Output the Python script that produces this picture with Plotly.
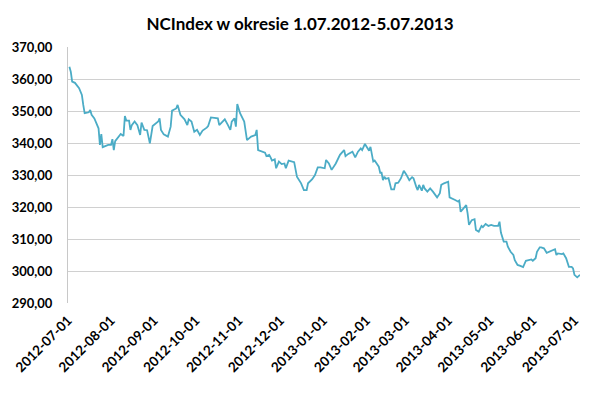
import plotly.graph_objects as go

dates = [
    "2012-07-02", "2012-07-03", "2012-07-04", "2012-07-06", "2012-07-09", "2012-07-11", "2012-07-12", "2012-07-13",
    "2012-07-16", "2012-07-17", "2012-07-18", "2012-07-20", "2012-07-23", "2012-07-24", "2012-07-25", "2012-07-26",
    "2012-07-30", "2012-08-01", "2012-08-02", "2012-08-03", "2012-08-04", "2012-08-07", "2012-08-08", "2012-08-10",
    "2012-08-11", "2012-08-12", "2012-08-14", "2012-08-15", "2012-08-16", "2012-08-18", "2012-08-20", "2012-08-22",
    "2012-08-23", "2012-08-25", "2012-08-27", "2012-08-29", "2012-08-30", "2012-08-31", "2012-09-04", "2012-09-05",
    "2012-09-06", "2012-09-08", "2012-09-11", "2012-09-13", "2012-09-14", "2012-09-17", "2012-09-18", "2012-09-20",
    "2012-09-23", "2012-09-25", "2012-09-26", "2012-09-28", "2012-09-30", "2012-10-02", "2012-10-04", "2012-10-06",
    "2012-10-09", "2012-10-10", "2012-10-12", "2012-10-15", "2012-10-17", "2012-10-18", "2012-10-21", "2012-10-22",
    "2012-10-24", "2012-10-26", "2012-10-27", "2012-10-29", "2012-10-30", "2012-10-31", "2012-11-02", "2012-11-03",
    "2012-11-05", "2012-11-07", "2012-11-10", "2012-11-13", "2012-11-14", "2012-11-15", "2012-11-18", "2012-11-20",
    "2012-11-21", "2012-11-23", "2012-11-24", "2012-11-25", "2012-11-27", "2012-11-28", "2012-11-30", "2012-12-02",
    "2012-12-04", "2012-12-05", "2012-12-07", "2012-12-10", "2012-12-11", "2012-12-13", "2012-12-14", "2012-12-16",
    "2012-12-18", "2012-12-20", "2012-12-21", "2012-12-24", "2012-12-26", "2012-12-28", "2012-12-30", "2013-01-02",
    "2013-01-03", "2013-01-05", "2013-01-07", "2013-01-10", "2013-01-13", "2013-01-14", "2013-01-16", "2013-01-17",
    "2013-01-19", "2013-01-22", "2013-01-24", "2013-01-26", "2013-01-28", "2013-01-29", "2013-01-31", "2013-02-02",
    "2013-02-03", "2013-02-04", "2013-02-06", "2013-02-07", "2013-02-10", "2013-02-11", "2013-02-12", "2013-02-13",
    "2013-02-14", "2013-02-15", "2013-02-17", "2013-02-19", "2013-02-21", "2013-02-22", "2013-02-24", "2013-02-26",
    "2013-02-28", "2013-03-02", "2013-03-04", "2013-03-06", "2013-03-07", "2013-03-09", "2013-03-10", "2013-03-11",
    "2013-03-13", "2013-03-14", "2013-03-15", "2013-03-17", "2013-03-19", "2013-03-21", "2013-03-24", "2013-03-26",
    "2013-03-27", "2013-03-29", "2013-04-01", "2013-04-02", "2013-04-04", "2013-04-06", "2013-04-08", "2013-04-09",
    "2013-04-10", "2013-04-12", "2013-04-14", "2013-04-15", "2013-04-16", "2013-04-18", "2013-04-20", "2013-04-21",
    "2013-04-23", "2013-04-25", "2013-04-26", "2013-04-28", "2013-04-30", "2013-05-02", "2013-05-04", "2013-05-07",
    "2013-05-08", "2013-05-09", "2013-05-11", "2013-05-13", "2013-05-14", "2013-05-16", "2013-05-18", "2013-05-19",
    "2013-05-21", "2013-05-23", "2013-05-25", "2013-05-27", "2013-05-29", "2013-05-31", "2013-06-01", "2013-06-03",
    "2013-06-04", "2013-06-06", "2013-06-07", "2013-06-09", "2013-06-11", "2013-06-13", "2013-06-16", "2013-06-17",
    "2013-06-18", "2013-06-19", "2013-06-22", "2013-06-23", "2013-06-25", "2013-06-27", "2013-06-29", "2013-06-30",
    "2013-07-01", "2013-07-03", "2013-07-05",
]

values = [
    363.8, 362.3, 359.2, 358.8, 357.1, 355.0, 351.9, 349.3,
    349.6, 350.3, 348.8, 347.7, 344.6, 339.4, 342.8, 338.7,
    339.4, 339.4, 341.2, 337.8, 340.6, 342.2, 342.8, 342.2,
    348.4, 347.0, 347.0, 344.1, 345.6, 346.7, 345.6, 342.5,
    346.4, 344.1, 344.0, 339.9, 343.0, 345.3, 346.7, 347.7,
    344.1, 342.7, 342.0, 345.1, 350.1, 350.8, 351.9, 348.8,
    347.4, 345.6, 347.4, 346.7, 343.5, 344.1, 342.5, 343.9,
    344.8, 345.3, 348.0, 347.7, 347.7, 345.6, 347.0, 347.4,
    345.8, 344.1, 346.7, 347.7, 345.1, 352.2, 349.3, 348.4,
    346.7, 340.9, 342.0, 342.5, 344.1, 337.8, 337.3, 337.0,
    335.9, 336.3, 335.5, 334.5, 334.9, 332.1, 334.2, 333.4,
    333.6, 332.1, 334.5, 334.2, 334.0, 329.5, 328.7, 327.4,
    325.3, 325.3, 327.4, 328.7, 330.0, 332.4, 332.4, 332.1,
    334.7, 333.6, 331.6, 333.6, 336.3, 336.8, 337.8, 335.9,
    336.6, 337.3, 335.5, 337.3, 338.3, 337.8, 339.7, 338.3,
    337.6, 338.8, 334.2, 334.5, 332.6, 330.7, 330.7, 328.4,
    329.5, 328.8, 329.0, 325.5, 325.5, 327.4, 327.6, 329.0,
    331.3, 330.0, 328.4, 329.3, 329.0, 326.3, 325.3, 326.9,
    325.1, 326.9, 325.8, 324.8, 325.8, 324.8, 323.0, 324.3,
    326.9, 327.4, 327.9, 323.0, 322.7, 322.2, 321.7, 322.0,
    318.5, 319.6, 320.6, 318.0, 314.4, 315.9, 316.2, 312.8,
    312.3, 314.1, 313.7, 314.7, 314.1, 314.4, 314.1, 314.1,
    315.4, 312.0, 309.2, 309.2, 307.6, 306.0, 305.0, 303.4,
    301.9, 301.6, 301.2, 303.2, 303.4, 303.6, 303.2, 304.0,
    306.0, 307.4, 307.4, 307.1, 305.7, 306.0, 306.6, 306.8,
    305.0, 305.5, 305.3, 305.5, 304.0, 301.3, 301.3, 300.8,
    298.8, 298.0, 298.8,
]

title_text = "NCIndex w okresie 1.07.2012-5.07.2013"
y_range = [290, 370]
x_range = ["2012-07-01", "2013-07-05"]

fig = go.Figure()
fig.add_trace(go.Scatter(
    x=dates, y=values, mode="lines",
    line=dict(color="#4bacc6", width=1.8),
    hoverinfo="x+y",
))

fig.update_layout(
    width=600, height=397,
    margin=dict(l=66, r=20, t=47, b=94),
    paper_bgcolor="white", plot_bgcolor="white",
    separators=", ",
    showlegend=False,
    title=dict(
        text="<b>" + title_text + "</b>",
        x=0.5, xanchor="center", y=0.94, yanchor="middle",
        font=dict(family="Lato, Open Sans, sans-serif", size=17, color="#000000"),
    ),
    font=dict(family="Lato, Open Sans, sans-serif", color="#000000"),
)

fig.update_xaxes(
    type="date", range=x_range,
    tick0="2012-07-01", dtick="M1", tickformat="%Y-%m-%d",
    tickangle=-45,
    tickfont=dict(family="Lato, sans-serif", size=13.5, color="#000000", weight="bold"),
    ticklabelstandoff=6,
    showgrid=False, zeroline=False,
    showline=False, ticks="",
)

fig.update_yaxes(
    range=y_range, dtick=10, tickformat=".2f",
    tickfont=dict(family="Lato, sans-serif", size=13, color="#000000", weight="bold"),
    ticklabelstandoff=12,
    showgrid=True, gridcolor="#d0d0d0", gridwidth=1,
    zeroline=False,
    showline=True, linecolor="#c8c8c8", linewidth=1,
    ticks="", ticklen=0,
)

fig.write_html("out.html")
